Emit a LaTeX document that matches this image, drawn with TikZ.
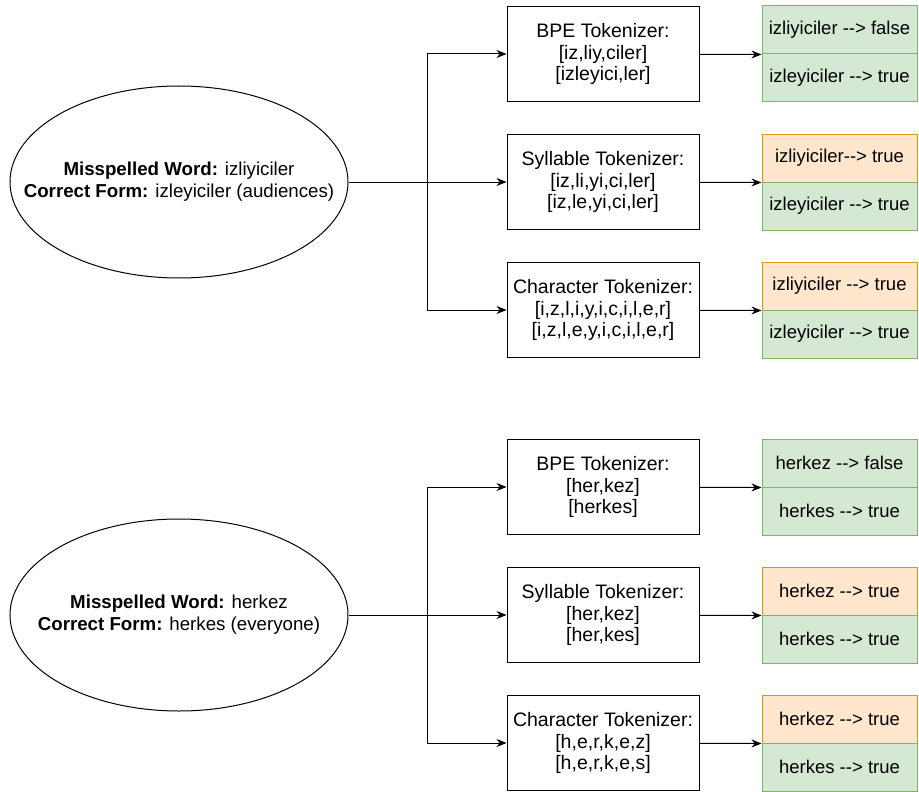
\documentclass[tikz,border=0pt]{standalone}
\usepackage{fontspec}
\setmainfont{Liberation Sans}
\usetikzlibrary{shapes.geometric,arrows.meta}

\definecolor{okfill}{HTML}{D5E8D4}
\definecolor{okline}{HTML}{82B366}
\definecolor{badfill}{HTML}{FFE6CC}
\definecolor{badline}{HTML}{D79B00}

\begin{document}
\begin{tikzpicture}[x=1pt,y=-1pt,line width=1pt,
  word/.style={ellipse,draw,minimum width=338pt,minimum height=192pt,inner sep=0pt},
  wordtext/.style={align=center,inner sep=0pt,font=\fontsize{18.7}{21.7}\selectfont},
  tok/.style={rectangle,draw,minimum width=192pt,minimum height=95pt,inner sep=0pt,
    align=center,font=\fontsize{19.5}{21.7}\selectfont},
  ok/.style={rectangle,draw=okline,fill=okfill,minimum width=155pt,minimum height=48pt,
    inner sep=0pt,font=\fontsize{18.5}{20}\selectfont},
  bad/.style={ok,draw=badline,fill=badfill},
  arr/.style={-{Stealth[length=10pt,width=8pt]}}]
\useasboundingbox (0,0) rectangle (919,792);

% first word
\node[word] (w1) at (179,182) {};
\node[wordtext] (w1text) at (w1) {\textbf{Misspelled Word:} izliyiciler\\\textbf{Correct Form:} izleyiciler (audiences)};
\coordinate (j1) at (427,182);

\node[tok] (bpe1) at (603,54) {BPE Tokenizer:\\{}[iz,liy,ciler]\\{}[izleyici,ler]};
\node[tok] (syl1) at (603,182) {Syllable Tokenizer:\\{}[iz,li,yi,ci,ler]\\{}[iz,le,yi,ci,ler]};
\node[tok] (chr1) at (603,310) {Character Tokenizer:\\{}[i,z,l,i,y,i,c,i,l,e,r]\\{}[i,z,l,e,y,i,c,i,l,e,r]};

\node[ok] (bpe1a) at (839.5,30) {izliyiciler -{}-> false};
\node[ok] (bpe1b) at (839.5,78) {izleyiciler -{}-> true};
\node[bad] (syl1a) at (839.5,158) {izliyiciler-{}-> true};
\node[ok] (syl1b) at (839.5,206) {izleyiciler -{}-> true};
\node[bad] (chr1a) at (839.5,286) {izliyiciler -{}-> true};
\node[ok] (chr1b) at (839.5,334) {izleyiciler -{}-> true};

\draw[arr] (w1) -- (syl1);
\draw[arr] (j1) |- (bpe1);
\draw[arr] (j1) |- (chr1);
\draw[arr] (bpe1) -- (bpe1a.south west);
\draw[arr] (syl1) -- (syl1a.south west);
\draw[arr] (chr1) -- (chr1a.south west);

% second word
\node[word] (w2) at (179,615) {};
\node[wordtext] (w2text) at (w2) {\textbf{Misspelled Word:} herkez\\\textbf{Correct Form:} herkes (everyone)};
\coordinate (j2) at (427,615);

\node[tok] (bpe2) at (603,487) {BPE Tokenizer:\\{}[her,kez]\\{}[herkes]};
\node[tok] (syl2) at (603,615) {Syllable Tokenizer:\\{}[her,kez]\\{}[her,kes]};
\node[tok] (chr2) at (603,743) {Character Tokenizer:\\{}[h,e,r,k,e,z]\\{}[h,e,r,k,e,s]};

\node[ok] (bpe2a) at (839.5,463) {herkez -{}-> false};
\node[ok] (bpe2b) at (839.5,511) {herkes -{}-> true};
\node[bad] (syl2a) at (839.5,591) {herkez -{}-> true};
\node[ok] (syl2b) at (839.5,639) {herkes -{}-> true};
\node[bad] (chr2a) at (839.5,719) {herkez -{}-> true};
\node[ok] (chr2b) at (839.5,767) {herkes -{}-> true};

\draw[arr] (w2) -- (syl2);
\draw[arr] (j2) |- (bpe2);
\draw[arr] (j2) |- (chr2);
\draw[arr] (bpe2) -- (bpe2a.south west);
\draw[arr] (syl2) -- (syl2a.south west);
\draw[arr] (chr2) -- (chr2a.south west);
\end{tikzpicture}
\end{document}
